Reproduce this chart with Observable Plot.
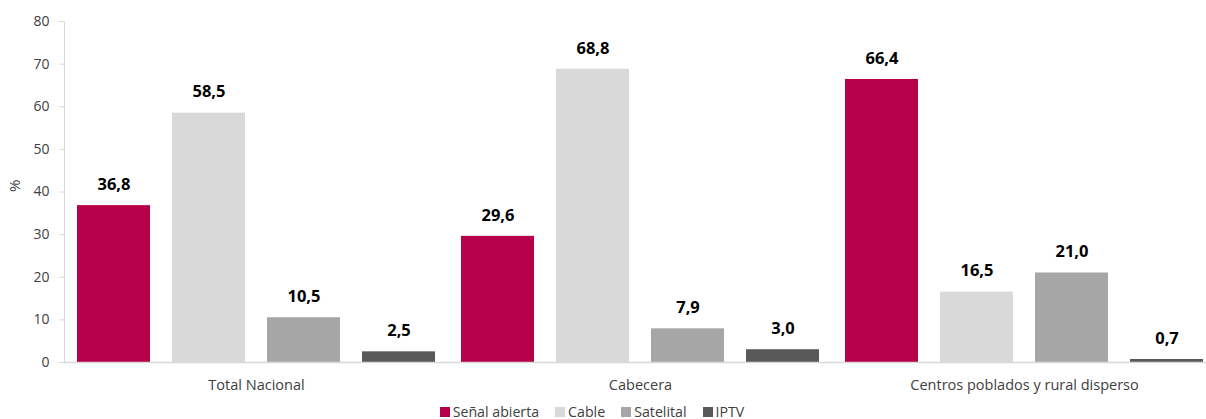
<!DOCTYPE html>
<html>
<head>
<meta charset="utf-8">
<script src="https://cdn.jsdelivr.net/npm/d3@7"></script>
<script src="https://cdn.jsdelivr.net/npm/@observablehq/plot@0.6"></script>
<style>
  html, body { margin: 0; padding: 0; background: #fff; }
  body { width: 1206px; height: 419px; overflow: hidden; font-family: "Open Sans", sans-serif; }
  #chart svg { display: block; }
  #legend { display: flex; justify-content: center; margin-left: -22px; height: 19px; padding-top: 2px; align-items: center;
            font-family: "Open Sans", sans-serif; font-size: 14.2px; color: #404040; }
  #legend .item { display: flex; align-items: center; margin: 0 8px; }
  #legend .sw { width: 10px; height: 10px; margin-right: 3px; display: inline-block; }
</style>
</head>
<body>
<div id="chart"></div>
<div id="legend"></div>
<script>
const groups = ["Total Nacional", "Cabecera", "Centros poblados y rural disperso"];
const series = ["Señal abierta", "Cable", "Satelital", "IPTV"];
const senalAbierta = [36.8, 29.6, 66.4];
const cable = [58.5, 68.8, 16.5];
const satelital = [10.5, 7.9, 21.0];
const iptv = [2.5, 3.0, 0.7];
const yTicks = [0, 10, 20, 30, 40, 50, 60, 70, 80];
const colors = ["#b7004a", "#d9d9d9", "#a6a6a6", "#595959"];

const valuesBySeries = [senalAbierta, cable, satelital, iptv];
const data = [];
groups.forEach((g, gi) => {
  series.forEach((s, si) => {
    data.push({group: g, type: s, value: valuesBySeries[si][gi]});
  });
});
const fmt = v => v.toFixed(1).replace(".", ",");

const plot = Plot.plot({
  width: 1206,
  height: 400,
  marginTop: 21,
  marginBottom: 38,
  marginLeft: 64,
  marginRight: -10,
  style: {fontFamily: "Open Sans, sans-serif", fontSize: "14px", color: "#404040", overflow: "visible"},
  fx: {domain: groups, padding: 0, label: null},
  x: {domain: series, paddingInner: 0.232, paddingOuter: 0.137, axis: null},
  y: {domain: [0, 80], label: null},
  color: {domain: series, range: colors},
  marks: [
    Plot.frame({anchor: "left", stroke: "#d9d9d9", facet: "super"}),
    Plot.axisY({ticks: yTicks, tickSize: 5, tickPadding: 10, stroke: "#d9d9d9", tickFormat: d => String(d), fill: "#404040", fontSize: 14}),
    Plot.text(["%"], {frameAnchor: "left", dx: -49, rotate: -90, fill: "#404040", fontSize: 15, facet: "super"}),
    Plot.axisFx({anchor: "bottom", tickSize: 0, tickPadding: 17, fill: "#404040", fontSize: 14.5}),
    Plot.barY(data, {fx: "group", x: "type", y: "value", fill: "type"}),
    Plot.ruleY([0], {stroke: "#d9d9d9", strokeWidth: 1.5}),
    Plot.text(data, {fx: "group", x: "type", y: "value", text: d => fmt(d.value), dy: -21, fontWeight: "bold", fontSize: 16.5, fill: "#000"})
  ]
});
document.getElementById("chart").appendChild(plot);

const legend = document.getElementById("legend");
series.forEach((s, i) => {
  const item = document.createElement("span");
  item.className = "item";
  const sw = document.createElement("span");
  sw.className = "sw";
  sw.style.background = colors[i];
  const label = document.createElement("span");
  label.textContent = s;
  item.appendChild(sw);
  item.appendChild(label);
  legend.appendChild(item);
});
</script>
</body>
</html>
